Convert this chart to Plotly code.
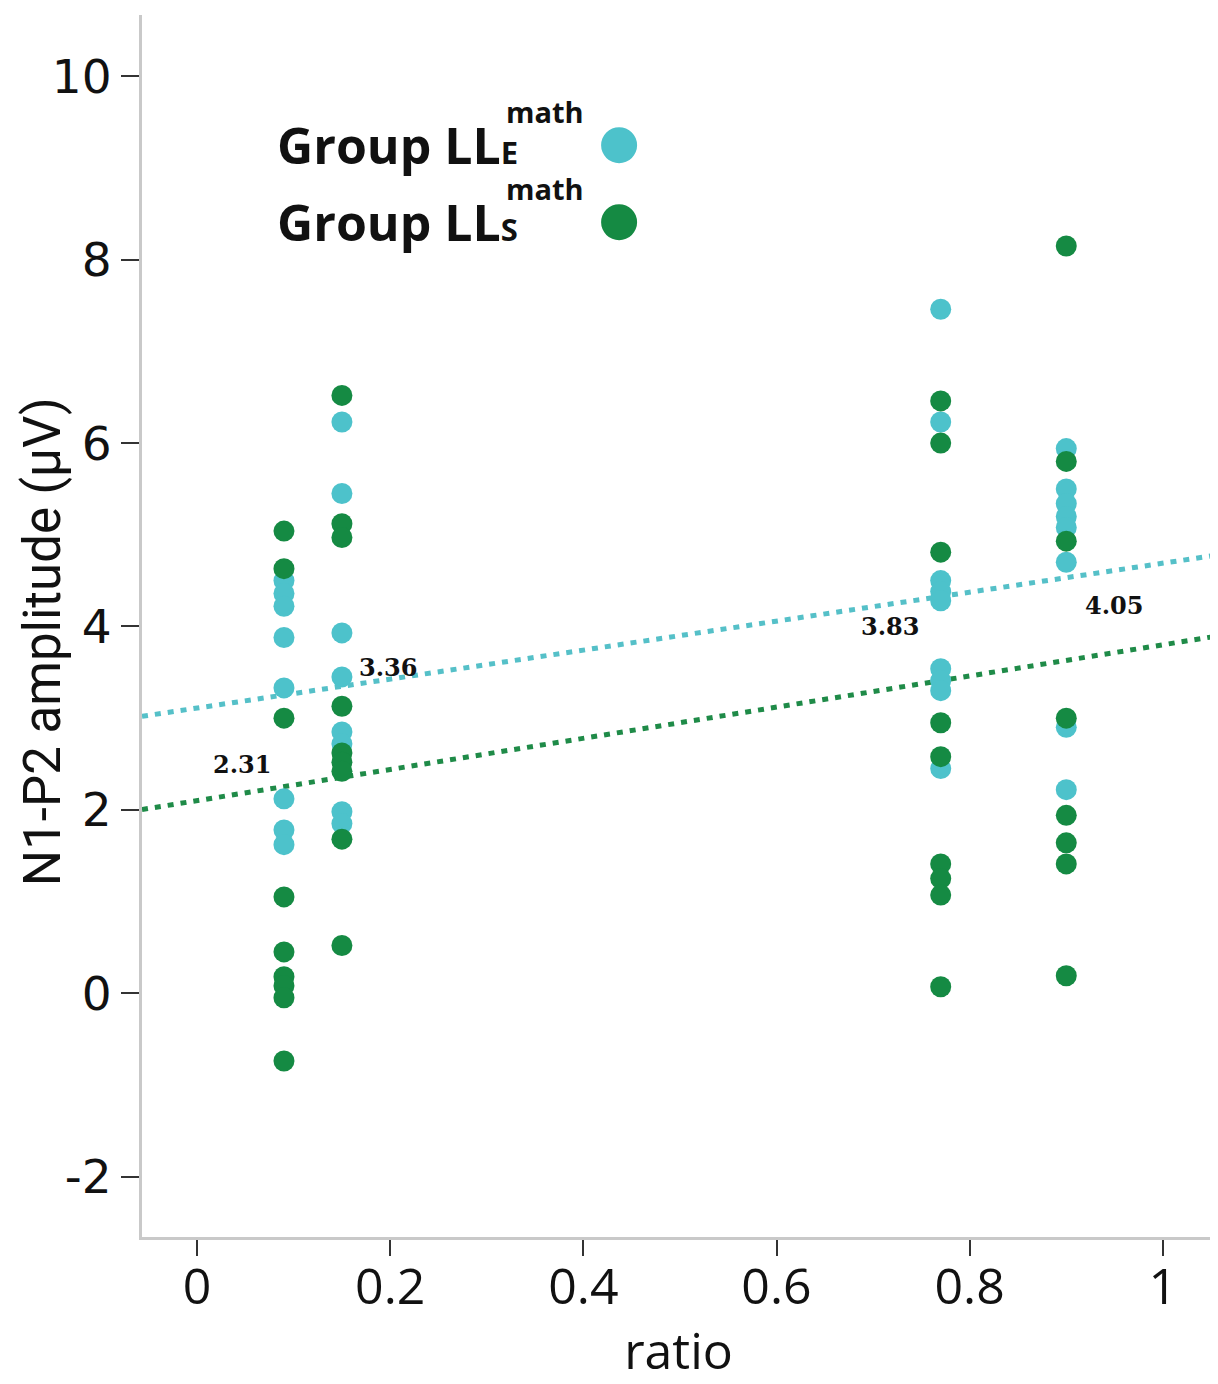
import numpy as np
import plotly.graph_objects as go

# ---------------- data ----------------
group_names = ["Group LLE math", "Group LLS math"]

lle_x = [0.09]*8 + [0.15]*8 + [0.77]*9 + [0.90]*8
lle_y = [4.50, 4.36, 4.22, 3.88, 3.33, 2.12, 1.78, 1.62,
         6.23, 5.45, 3.93, 3.45, 2.85, 2.72, 1.98, 1.85,
         7.46, 6.23, 4.50, 4.38, 4.28, 3.54, 3.41, 3.30, 2.45,
         5.94, 5.50, 5.34, 5.20, 5.08, 4.70, 2.90, 2.22]

lls_x = [0.09]*9 + [0.15]*9 + [0.77]*9 + [0.90]*8
lls_y = [5.04, 4.63, 3.00, 1.05, 0.45, 0.18, 0.08, -0.05, -0.74,
         6.52, 5.12, 4.97, 3.13, 2.62, 2.52, 2.42, 1.68, 0.52,
         6.46, 6.00, 4.81, 2.95, 2.58, 1.41, 1.25, 1.07, 0.07,
         8.15, 5.80, 4.93, 3.00, 1.94, 1.64, 1.41, 0.19]

fit_intercepts = [3.11, 2.10]
fit_slopes = [1.58, 1.70]

value_labels = ["2.31", "3.36", "3.83", "4.05"]
label_x = [0.047, 0.198, 0.717, 0.949]
label_y = [2.49, 3.555, 4.00, 4.23]

x_ticks = [0, 0.2, 0.4, 0.6, 0.8, 1]
x_tick_text = ["0", "0.2", "0.4", "0.6", "0.8", "1"]
y_ticks = [-2, 0, 2, 4, 6, 8, 10]
y_tick_text = ["-2", "0", "2", "4", "6", "8", "10"]

x_title = "ratio"
y_title = "N1-P2 amplitude (µV)"

# ---------------- style ----------------
CYAN = "#4dc2cb"
GREEN = "#158a43"
CYAN_LINE = "#55c0c8"
GREEN_LINE = "#1f8b48"
X_RANGE = [-0.057, 1.054]
Y_RANGE = [-2.66, 10.67]

fig = go.Figure()

xs = np.array(X_RANGE)
for b, m, col in zip(fit_intercepts, fit_slopes, [CYAN_LINE, GREEN_LINE]):
    fig.add_trace(go.Scatter(x=xs, y=b + m * xs, mode="lines",
                             line=dict(color=col, width=5, dash="6px,7px"),
                             showlegend=False, hoverinfo="skip"))

fig.add_trace(go.Scatter(x=lle_x, y=lle_y, mode="markers", name=group_names[0],
                         marker=dict(color=CYAN, size=21, line=dict(width=0)),
                         showlegend=False))
fig.add_trace(go.Scatter(x=lls_x, y=lls_y, mode="markers", name=group_names[1],
                         marker=dict(color=GREEN, size=21, line=dict(width=0)),
                         showlegend=False))

annotations = []
for t, xx, yy in zip(value_labels, label_x, label_y):
    annotations.append(dict(x=xx, y=yy, xref="x", yref="y", text="<b>" + t + "</b>",
                            showarrow=False, xanchor="center", yanchor="middle",
                            font=dict(family="DejaVu Serif", size=24, color="#111")))

# custom legend (text left, marker right)
leg_font = dict(family="Open Sans", size=50, color="#111")
leg_rows = [(9.25, "E", CYAN), (8.41, "S", GREEN)]
shapes = []
for yy, sub, col in leg_rows:
    annotations.append(dict(x=0.081, y=yy, xref="x", yref="y",
                            text="<b>Group LL<span style='font-size:31px'>" + sub + "</span></b>",
                            showarrow=False, xanchor="left", yanchor="middle", font=leg_font))
    annotations.append(dict(x=0.318, y=yy + 0.37, xref="x", yref="y",
                            text="<b>math</b>", showarrow=False, xanchor="left",
                            yanchor="middle",
                            font=dict(family="Open Sans", size=29, color="#111")))
    shapes.append(dict(type="circle", xref="x", yref="y", xsizemode="pixel",
                       ysizemode="pixel", xanchor=0.437, yanchor=yy,
                       x0=-18, x1=18, y0=-18, y1=18,
                       fillcolor=col, line=dict(width=0)))

# y-axis title as rotated annotation (slightly below centre, as in the reference)
annotations.append(dict(x=-0.092, y=0.487, xref="paper", yref="paper", text=y_title,
                        textangle=-90, showarrow=False, xanchor="center", yanchor="middle",
                        font=dict(family="Roboto", size=51, color="#111")))

fig.update_layout(
    width=1210, height=1376,
    margin=dict(l=134, r=3, t=7, b=147),
    paper_bgcolor="white", plot_bgcolor="white",
    showlegend=False,
    annotations=annotations, shapes=shapes,
    xaxis=dict(range=X_RANGE, tickvals=x_ticks, ticktext=x_tick_text,
               showgrid=False, zeroline=False, showline=True,
               linecolor="#c9c9c9", linewidth=3,
               ticks="outside", ticklen=16, tickwidth=2, tickcolor="#333",
               ticklabelstandoff=-12,
               tickfont=dict(family="Open Sans", size=50, color="#111"),
               title=dict(text=x_title, font=dict(family="Open Sans", size=50, color="#111"),
                          standoff=18)),
    yaxis=dict(range=Y_RANGE, tickvals=y_ticks, ticktext=y_tick_text,
               showgrid=False, zeroline=False, showline=True,
               linecolor="#c9c9c9", linewidth=3,
               ticks="outside", ticklen=18, tickwidth=2, tickcolor="#333",
               tickfont=dict(family="DejaVu Sans", size=47, color="#111")),
)

fig.write_html("out.html")
